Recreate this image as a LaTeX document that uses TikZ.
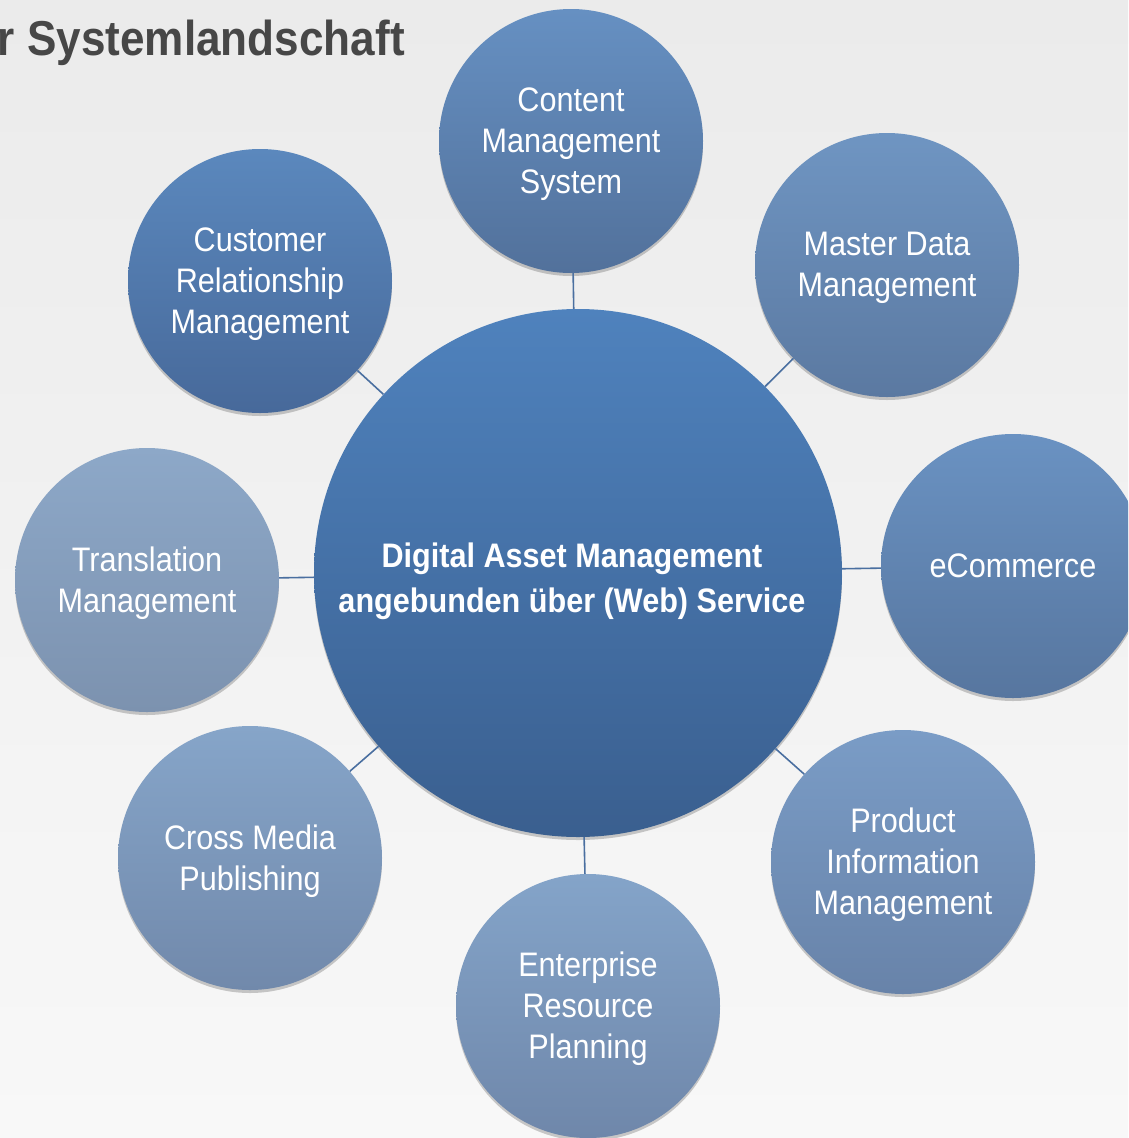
\documentclass[tikz,border=0pt]{standalone}
\usepackage{fontspec}
\setmainfont{Liberation Sans}[FakeStretch=0.9]
\usetikzlibrary{shadows}
\definecolor{bgtop}{HTML}{EBEBEB}
\definecolor{bgbot}{HTML}{F8F8F8}
\definecolor{titlec}{HTML}{474747}
\definecolor{linkc}{HTML}{4A6FA0}
\definecolor{hubT}{HTML}{4F82BD}\definecolor{hubB}{HTML}{3A5F8F}
\definecolor{crmT}{HTML}{5B88BD}\definecolor{crmB}{HTML}{47699A}
\definecolor{cmsT}{HTML}{6690C2}\definecolor{cmsB}{HTML}{52719B}
\definecolor{mdmT}{HTML}{6F95C2}\definecolor{mdmB}{HTML}{5B79A1}
\definecolor{ecoT}{HTML}{6A92C2}\definecolor{ecoB}{HTML}{57769F}
\definecolor{pimT}{HTML}{7A9CC6}\definecolor{pimB}{HTML}{6883A9}
\definecolor{erpT}{HTML}{84A4C9}\definecolor{erpB}{HTML}{6F87AA}
\definecolor{cmpT}{HTML}{86A5C9}\definecolor{cmpB}{HTML}{7189AB}
\definecolor{tmT}{HTML}{8DA8C8}\definecolor{tmB}{HTML}{7C92AF}
\begin{document}
\begin{tikzpicture}[x=1pt,y=-1pt,
  disc/.style={circle, inner sep=0pt,
    drop shadow={shadow xshift=0pt, shadow yshift=-3pt, opacity=0.2, fill=black}},
  sat/.style={disc, minimum size=264pt},
  sattext/.style={align=center, text=white, inner sep=0pt,
    font=\fontsize{34}{41}\selectfont},
  hub/.style={disc, minimum size=528pt, top color=hubT, bottom color=hubB},
  hubtext/.style={align=center, text=white, inner sep=0pt,
    font=\fontsize{34}{45}\selectfont\bfseries},
  link/.style={draw=linkc, line width=1.6pt},
  title/.style={text=titlec, font=\fontsize{49}{53}\selectfont\bfseries, inner sep=0pt}]
\path[use as bounding box, top color=bgtop, bottom color=bgbot] (0,0) rectangle (1128,1138);
\clip (0,0) rectangle (1128,1138);

\node[title, anchor=base east] (ttl) at (405,55) {er Systemlandschaft};

\node[hub, label={[hubtext, xshift=-6pt, yshift=-8pt]center:Digital Asset Management\\angebunden über (Web) Service}] (dam) at (578,573) {};

\node[sat, top color=cmsT, bottom color=cmsB,
  label={[sattext, yshift=-3pt]center:Content\\Management\\System}] (cms) at (571,141) {};
\node[sat, top color=mdmT, bottom color=mdmB,
  label={[sattext, yshift=-3pt]center:Master Data\\Management}] (mdm) at (887,265) {};
\node[sat, top color=ecoT, bottom color=ecoB,
  label={[sattext]center:eCommerce}] (eco) at (1013,566) {};
\node[sat, top color=pimT, bottom color=pimB,
  label={[sattext, yshift=-3pt]center:Product\\Information\\Management}] (pim) at (903,862) {};
\node[sat, top color=erpT, bottom color=erpB,
  label={[sattext, yshift=-3pt]center:Enterprise\\Resource\\Planning}] (erp) at (588,1006) {};
\node[sat, top color=cmpT, bottom color=cmpB,
  label={[sattext, yshift=-3pt]center:Cross Media\\Publishing}] (cmp) at (250,858) {};
\node[sat, top color=tmT, bottom color=tmB,
  label={[sattext, yshift=-3pt]center:Translation\\Management}] (tm) at (147,580) {};
\node[sat, top color=crmT, bottom color=crmB,
  label={[sattext, yshift=-3pt]center:Customer\\Relationship\\Management}] (crm) at (260,281) {};

\foreach \s in {cms,mdm,eco,pim,erp,cmp,tm,crm}
  \draw[link] (dam) -- (\s);
\end{tikzpicture}
\end{document}
